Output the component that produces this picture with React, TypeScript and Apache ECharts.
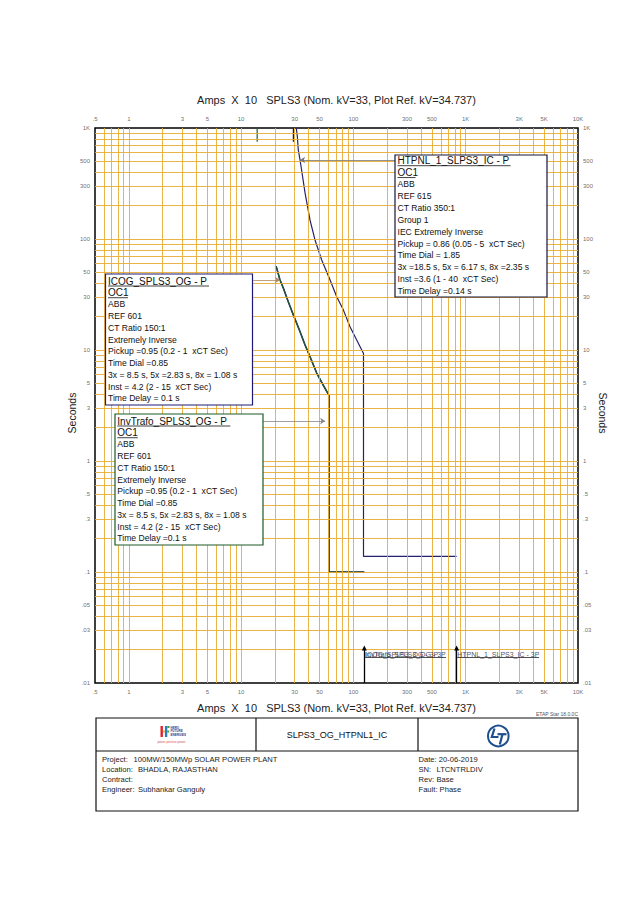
import React, { useEffect, useRef } from "react";
import * as echarts from "echarts";

const FONT = '"Liberation Sans", Arial, sans-serif';
const GRID_COLOR = "#E9AC34";
const NAVY = "#22226e";
const GREEN = "#1f5e2a";

// Tick labels
const xTickVals = [0.5, 1, 3, 5, 10, 30, 50, 100, 300, 500, 1000, 3000, 5000, 10000];
const xTickLabels = [".5", "1", "3", "5", "10", "30", "50", "100", "300", "500", "1K", "3K", "5K", "10K"];
const yTickVals = [1000, 500, 300, 100, 50, 30, 10, 5, 3, 1, 0.5, 0.3, 0.1, 0.05, 0.03, 0.01];
const yTickLabels = ["1K", "500", "300", "100", "50", "30", "10", "5", "3", "1", ".5", ".3", ".1", ".05", ".03", ".01"];

// Log grid (decades x 1..9)
const multipliers = [1, 2, 3, 4, 5, 6, 7, 8, 9];
const xDecades = [0.1, 1, 10, 100, 1000];
const yDecades = [0.01, 0.1, 1, 10, 100];

// Curves (Amps x10, seconds)
const htpnlCurve = [
  [31, 1000], [31.7, 835], [32.3, 634], [33.5, 515], [35.3, 364], [37.1, 260], [41.1, 148],
  [45.5, 98], [52.2, 64.7], [62, 42.8], [71, 30.2], [81.3, 23], [93.3, 16.2], [107, 12.3],
  [123, 9.3], [123, 0.138], [830, 0.138],
];
const icogCurve = [
  [20.5, 57], [22.2, 42.7], [23.8, 36], [26.3, 27.2], [29.2, 20.7], [33.5, 14.6], [37.1, 11.1],
  [41.1, 8.7], [47.1, 6.2], [54, 4.8], [60.6, 3.9], [60.6, 0.1], [125, 0.1],
];
const invTrafoCurve = [
  [20.5, 57], [22.2, 42.7], [23.8, 36], [26.3, 27.2], [29.2, 20.7], [33.5, 14.6], [37.1, 11.1],
  [41.1, 8.7], [47.1, 6.2], [54, 4.8], [60.6, 3.9], [60.6, 0.1], [125, 0.1],
];
const htpnlTopTick = [[29.2, 1000], [29.2, 750]];
const icogTopTick = [[13.9, 1000], [13.9, 750]];

// Connectors from label boxes to curves
const htpnlConnector = [[234, 515], [33.5, 515]];
const icogConnector = [[12.8, 42.7], [22.2, 42.7]];
const invConnector = [[15.7, 2.29], [56, 2.29]];

// Fault current arrows
const faultLowArrow = [[125, 0.01], [125, 0.0207]];
const faultHighArrow = [[830, 0.01], [830, 0.0207]];
const faultLabels = [
  { value: [127, 0.0179], name: "InvTrafo_SPLS3_OG - 3P" },
  { value: [127, 0.0179], name: "ICOG_SPLS3_OG - 3P" },
  { value: [840, 0.0179], name: "HTPNL_1_SLPS3_IC - 3P" },
];
const faultUnderlines = [
  [[127, 0.017], [668, 0.017]],
  [[840, 0.017], [4500, 0.017]],
];

// Box texts
const htpnlHeader = "HTPNL_1_SLPS3_IC - P";
const htpnlLines = [
  "ABB", "REF 615", "CT Ratio 350:1", "Group 1", "IEC Extremely Inverse",
  "Pickup = 0.86 (0.05 - 5  xCT Sec)", "Time Dial = 1.85",
  "3x =18.5 s, 5x = 6.17 s, 8x =2.35 s", "Inst =3.6 (1 - 40  xCT Sec)", "Time Delay =0.14 s",
];
const icogHeader = "ICOG_SPLS3_OG - P";
const icogLines = [
  "ABB", "REF 601", "CT Ratio 150:1", "Extremely Inverse", "Pickup =0.95 (0.2 - 1  xCT Sec)",
  "Time Dial =0.85", "3x = 8.5 s, 5x =2.83 s, 8x = 1.08 s", "Inst = 4.2 (2 - 15  xCT Sec)",
  "Time Delay = 0.1 s",
];
const invHeader = "InvTrafo_SPLS3_OG - P";
const invLines = [
  "ABB", "REF 601", "CT Ratio 150:1", "Extremely Inverse", "Pickup =0.95 (0.2 - 1  xCT Sec)",
  "Time Dial =0.85", "3x = 8.5 s, 5x =2.83 s, 8x = 1.08 s", "Inst = 4.2 (2 - 15  xCT Sec)",
  "Time Delay =0.1 s",
];

const axisTitle = "Amps  X  10   SPLS3 (Nom. kV=33, Plot Ref. kV=34.737)";

function infoBox(
  x: number, y: number, w: number, h: number, border: string, header: string, lines: string[],
  firstCenter: number, lh: number, headW: number, subW: number, tx: number
) {
  const els: any[] = [];
  els.push({ type: "rect", z: 50, shape: { x, y, width: w, height: h }, style: { fill: "#fff", stroke: border, lineWidth: 1.2 } });
  els.push({ type: "text", z: 51, x: tx, y: firstCenter, style: { text: header, fontSize: 10, fontFamily: FONT, fill: "#111", align: "left", verticalAlign: "middle" } });
  els.push({ type: "line", z: 51, shape: { x1: tx, y1: firstCenter + 5, x2: tx + headW, y2: firstCenter + 5 }, style: { stroke: "#111", lineWidth: 0.8 } });
  els.push({ type: "text", z: 51, x: tx, y: firstCenter + lh, style: { text: "OC1", fontSize: 10, fontFamily: FONT, fill: "#111", align: "left", verticalAlign: "middle" } });
  els.push({ type: "line", z: 51, shape: { x1: tx, y1: firstCenter + lh + 5, x2: tx + subW, y2: firstCenter + lh + 5 }, style: { stroke: "#111", lineWidth: 0.8 } });
  els.push({
    type: "text", z: 51, x: tx, y: firstCenter + 2 * lh - lh / 2,
    style: { text: lines.join("\n"), fontSize: 8.6, lineHeight: lh, fontFamily: FONT, fill: "#111", align: "left", verticalAlign: "top" },
  });
  return els;
}

const tb = (x: number, y: number, text: string) => ({
  type: "text", z: 20, x, y,
  style: { text, fontSize: 7.6, fontFamily: FONT, fill: "#222", align: "left", verticalAlign: "middle" },
});

export default function App() {
  const ref = useRef<HTMLDivElement>(null);
  useEffect(() => {
    if (!ref.current) return;
    const chart = echarts.init(ref.current, undefined, { renderer: "svg" });

    const xGrid: number[] = [];
    xDecades.forEach((d) => multipliers.forEach((m) => {
      const v = +(d * m).toPrecision(3);
      if (v > 0.5 && v < 10000) xGrid.push(v);
    }));
    const yGrid: number[] = [];
    yDecades.forEach((d) => multipliers.forEach((m) => {
      const v = +(d * m).toPrecision(3);
      if (v > 0.01 && v < 1000) yGrid.push(v);
    }));

    const labelScatter = (data: any[], position: string, distance: number) => ({
      type: "scatter", data, symbolSize: 0, silent: true, clip: false, z: 5,
      label: { show: true, formatter: "{b}", position, distance, fontSize: 6, fontFamily: FONT, color: "#444" },
      emphasis: { disabled: true },
    });

    const curve = (data: number[][], color: string, width: number, z: number) => ({
      type: "line", data, symbol: "none", showSymbol: false, silent: true, z,
      lineStyle: { color, width }, emphasis: { disabled: true },
    });

    const arrowLine = (seg: number[][], color: string, width: number, sym: string) => ({
      type: "line", data: [], silent: true, z: 6,
      markLine: {
        silent: true, symbol: ["none", sym], symbolSize: 5, label: { show: false },
        lineStyle: { color, width, type: "solid" }, emphasis: { disabled: true },
        data: [[{ coord: seg[0] }, { coord: seg[1] }]],
      },
    });

    const graphics: any[] = [
      ...infoBox(395, 155, 152, 142, "#15153a", htpnlHeader, htpnlLines, 160.7, 11.85, 113, 18, 397.5),
      ...infoBox(105.5, 274, 147, 131, "#1c1c78", icogHeader, icogLines, 281, 11.73, 101, 20, 108),
      ...infoBox(115, 414, 148, 131, "#1d5a24", invHeader, invLines, 421, 11.73, 113, 20.5, 117.3),
      // axis titles
      { type: "text", z: 20, x: 336.5, y: 100, style: { text: axisTitle, fontSize: 11, fontFamily: FONT, fill: "#222", align: "center", verticalAlign: "middle" } },
      { type: "text", z: 20, x: 336.5, y: 708, style: { text: axisTitle, fontSize: 11, fontFamily: FONT, fill: "#222", align: "center", verticalAlign: "middle" } },
      { type: "text", z: 20, x: 72, y: 413, rotation: Math.PI / 2, style: { text: "Seconds", fontSize: 10.5, fontFamily: FONT, fill: "#222", align: "center", verticalAlign: "middle" } },
      { type: "text", z: 20, x: 603, y: 413, rotation: -Math.PI / 2, style: { text: "Seconds", fontSize: 10.5, fontFamily: FONT, fill: "#222", align: "center", verticalAlign: "middle" } },
      { type: "text", z: 20, x: 578, y: 714, style: { text: "ETAP Star 18.0.0C", fontSize: 5, fontFamily: FONT, fill: "#555", align: "right", verticalAlign: "middle" } },
      // title block
      { type: "rect", z: 20, shape: { x: 96, y: 718, width: 482, height: 93 }, style: { fill: "none", stroke: "#111", lineWidth: 1.2 } },
      { type: "line", z: 20, shape: { x1: 96, y1: 751, x2: 578, y2: 751 }, style: { stroke: "#111", lineWidth: 1.2 } },
      { type: "line", z: 20, shape: { x1: 256, y1: 718, x2: 256, y2: 751 }, style: { stroke: "#111", lineWidth: 1.2 } },
      { type: "line", z: 20, shape: { x1: 418, y1: 718, x2: 418, y2: 751 }, style: { stroke: "#111", lineWidth: 1.2 } },
      { type: "text", z: 20, x: 337, y: 735, style: { text: "SLPS3_OG_HTPNL1_IC", fontSize: 9, fontFamily: FONT, fill: "#111", align: "center", verticalAlign: "middle" } },
      tb(102, 759.5, "Project:"), tb(133.5, 759.5, "100MW/150MWp SOLAR POWER PLANT"),
      tb(102, 769.5, "Location:"), tb(138, 769.5, "BHADLA, RAJASTHAN"),
      tb(102, 779.5, "Contract:"),
      tb(102, 789.5, "Engineer:"), tb(138, 789.5, "Subhankar Ganguly"),
      tb(418.5, 759.5, "Date: 20-06-2019"),
      tb(418.5, 769.5, "SN:"), tb(436.5, 769.5, "LTCNTRLDIV"),
      tb(418.5, 779.5, "Rev:"), tb(436.5, 779.5, "Base"),
      tb(418.5, 789.5, "Fault: Phase"),
      // left logo (Hero Future Energies)
      { type: "rect", z: 20, shape: { x: 160.5, y: 726, width: 2.4, height: 11 }, style: { fill: "#e02127" } },
      { type: "rect", z: 20, shape: { x: 162.9, y: 730.5, width: 2, height: 2 }, style: { fill: "#f7b51b" } },
      { type: "rect", z: 20, shape: { x: 164.9, y: 726, width: 2.4, height: 11 }, style: { fill: "#2a7fc1" } },
      { type: "rect", z: 20, shape: { x: 167.3, y: 726, width: 2.2, height: 2 }, style: { fill: "#3aa04a" } },
      { type: "rect", z: 20, shape: { x: 167.3, y: 730.5, width: 1.8, height: 2 }, style: { fill: "#3aa04a" } },
      { type: "text", z: 20, x: 170.5, y: 726, style: { text: "HERO\nFUTURE\nENERGIES", fontSize: 3, lineHeight: 3.4, fontWeight: "bold", fontFamily: FONT, fill: "#2e3a8c", align: "left", verticalAlign: "top" } },
      { type: "text", z: 20, x: 171.5, y: 741.7, style: { text: "power positive power", fontSize: 3, fontFamily: FONT, fill: "#d9534f", align: "center", verticalAlign: "middle" } },
      // right logo (L&T)
      { type: "circle", z: 20, shape: { cx: 498.3, cy: 736, r: 10.3 }, style: { fill: "none", stroke: "#1e4f8f", lineWidth: 2 } },
      { type: "polyline", z: 20, shape: { points: [[494.5, 728.5], [491.8, 737], [498.5, 737]] }, style: { fill: "none", stroke: "#1e4f8f", lineWidth: 2.2 } },
      { type: "polyline", z: 20, shape: { points: [[497.5, 734.2], [506.5, 734.2]] }, style: { fill: "none", stroke: "#1e4f8f", lineWidth: 2.2 } },
      { type: "polyline", z: 20, shape: { points: [[502.5, 734.2], [499.8, 744.5]] }, style: { fill: "none", stroke: "#1e4f8f", lineWidth: 2.2 } },
    ];

    chart.setOption({
      animation: false,
      backgroundColor: "#fff",
      grid: { left: 95, top: 128, right: 60, bottom: 220, show: true, borderColor: "#000", borderWidth: 1.5, backgroundColor: "#fff" },
      xAxis: {
        type: "log", logBase: 10, min: 0.5, max: 10000,
        axisLine: { show: false }, axisTick: { show: false }, axisLabel: { show: false }, splitLine: { show: false },
      },
      yAxis: {
        type: "log", logBase: 10, min: 0.01, max: 1000,
        axisLine: { show: false }, axisTick: { show: false }, axisLabel: { show: false }, splitLine: { show: false },
      },
      graphic: graphics,
      series: [
        {
          type: "line", data: [[1, 1]], symbol: "none", silent: true, z: 1, lineStyle: { opacity: 0 },
          markLine: {
            silent: true, symbol: ["none", "none"], label: { show: false }, emphasis: { disabled: true },
            lineStyle: { color: GRID_COLOR, width: 0.9, type: "solid" },
            data: [...xGrid.map((v) => ({ xAxis: v })), ...yGrid.map((v) => ({ yAxis: v }))],
          },
        },
        curve(htpnlCurve, NAVY, 1.2, 3),
        curve(icogCurve, "#1c1c78", 1.6, 3),
        curve(invTrafoCurve, GREEN, 1.1, 4),
        curve(htpnlTopTick, "#111133", 1.2, 3),
        curve(icogTopTick, GREEN, 1.2, 3),
        arrowLine(htpnlConnector, "#777", 0.8, "arrow"),
        arrowLine(icogConnector, "#b08a5a", 0.8, "arrow"),
        arrowLine(invConnector, "#888", 0.8, "arrow"),
        arrowLine(faultLowArrow, "#000", 1.3, "triangle"),
        arrowLine(faultHighArrow, "#000", 1.3, "triangle"),
        ...faultUnderlines.map((seg) => arrowLine(seg, "#222", 0.8, "none")),
        {
          type: "scatter", data: faultLabels, symbolSize: 0, silent: true, clip: false, z: 6,
          label: { show: true, formatter: "{b}", position: "right", distance: 0, fontSize: 7, fontFamily: FONT, color: "#1a1a3a" },
          emphasis: { disabled: true },
        },
        labelScatter(xTickVals.map((v, i) => ({ value: [v, 1000], name: xTickLabels[i] })), "top", 6),
        labelScatter(xTickVals.map((v, i) => ({ value: [v, 0.01], name: xTickLabels[i] })), "bottom", 5.5),
        labelScatter(yTickVals.map((v, i) => ({ value: [0.5, v], name: yTickLabels[i] })), "left", 5),
        labelScatter(yTickVals.map((v, i) => ({ value: [10000, v], name: yTickLabels[i] })), "right", 5),
      ],
    });
    return () => chart.dispose();
  }, []);
  return <div ref={ref} style={{ position: "absolute", left: 0, top: 0, width: 638, height: 903 }} />;
}
